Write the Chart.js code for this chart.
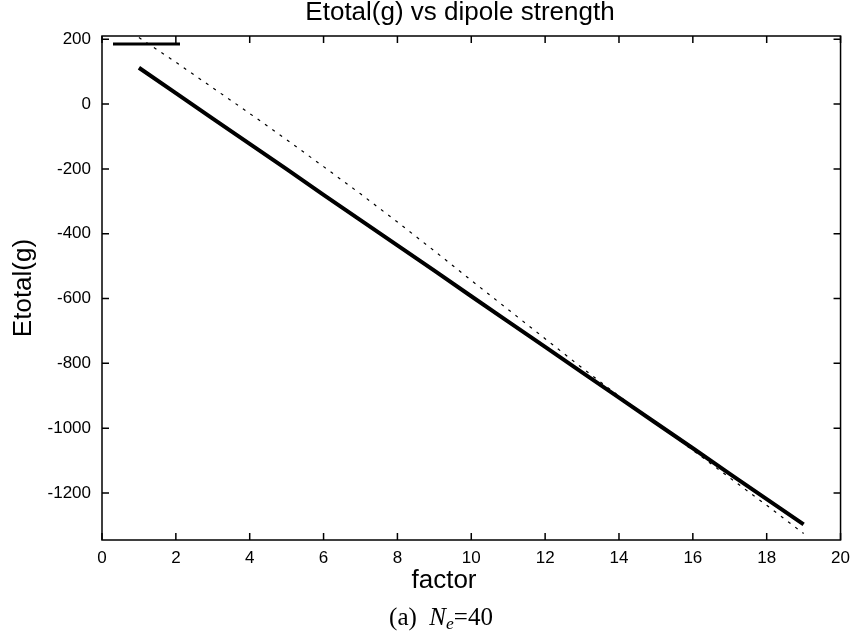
<!DOCTYPE html>
<html>
<head>
<meta charset="utf-8">
<script src="https://cdn.jsdelivr.net/npm/chart.js@4.4.0/dist/chart.umd.min.js"></script>
<style>
  html, body { margin: 0; padding: 0; background: #fff; }
  #wrap { position: relative; width: 858px; height: 641px; }
  #caption {
    position: absolute; left: 0; width: 882px; top: 603px;
    text-align: center; color: #000;
    font-family: "Liberation Serif", "DejaVu Serif", serif; font-size: 25px;
  }
  #caption sub { font-size: 70%; vertical-align: -0.25em; }
</style>
</head>
<body>
<div id="wrap">
  <canvas id="grafica" width="858" height="641"></canvas>
  <div id="caption">(a)&nbsp; <i>N<sub>e</sub></i>=40</div>
</div>
<script>
// Valores
const factores = [1, 2, 3, 4, 5, 6, 7, 8, 9, 10, 11, 12, 13, 14, 15, 16, 17, 18, 19];
const etotalSolida = [112, 34, -45, -123, -201, -280, -358, -436, -514, -593, -671, -749, -828, -906, -984, -1062, -1141, -1219, -1297];
const etotalPunteada = [205, 129, 50, -29, -110, -193, -277, -364, -453, -544, -634, -724, -814, -901, -985, -1068, -1153, -1238, -1325];
const ticksX = [0, 2, 4, 6, 8, 10, 12, 14, 16, 18, 20];
const ticksY = [200, 0, -200, -400, -600, -800, -1000, -1200];

const titulo = 'Etotal(g) vs dipole strength';
const tituloX = 'factor';
const tituloY = 'Etotal(g)';

const fuente = '"Liberation Sans", Arial, sans-serif';

// Marco con marcas hacia adentro, muestra de la clave y textos
const marco = {
    id: 'marco',
    afterDraw(chart) {
        const { ctx, chartArea: a, scales: { x, y } } = chart;
        const largo = 7;
        ctx.save();
        ctx.strokeStyle = '#000';
        ctx.lineWidth = 1.5;
        ctx.strokeRect(a.left, a.top, a.right - a.left, a.bottom - a.top);
        ctx.beginPath();
        x.ticks.forEach(t => {
            const px = x.getPixelForValue(t.value);
            ctx.moveTo(px, a.bottom); ctx.lineTo(px, a.bottom - largo);
            ctx.moveTo(px, a.top); ctx.lineTo(px, a.top + largo);
        });
        y.ticks.forEach(t => {
            const py = y.getPixelForValue(t.value);
            ctx.moveTo(a.left, py); ctx.lineTo(a.left + largo, py);
            ctx.moveTo(a.right, py); ctx.lineTo(a.right - largo, py);
        });
        ctx.stroke();

        // muestra de la línea en la clave
        ctx.lineWidth = 3;
        ctx.beginPath();
        ctx.moveTo(a.left + 11, a.top + 8);
        ctx.lineTo(a.left + 78, a.top + 8);
        ctx.stroke();

        ctx.fillStyle = '#000';
        ctx.font = '26px ' + fuente;
        ctx.textAlign = 'center';
        ctx.textBaseline = 'middle';
        ctx.fillText(titulo, 460, 13);
        ctx.fillText(tituloX, 444, 581);
        ctx.restore();
    }
};

const ctx = document.getElementById('grafica').getContext('2d');
new Chart(ctx, {
    type: 'line',
    data: {
        datasets: [{
            label: 'punteada',
            data: factores.map((f, i) => ({ x: f, y: etotalPunteada[i] })),
            borderColor: '#000',
            borderWidth: 1.2,
            borderDash: [3, 6],
            pointRadius: 0,
            fill: false
        }, {
            label: 'solida',
            data: factores.map((f, i) => ({ x: f, y: etotalSolida[i] })),
            borderColor: '#000',
            borderWidth: 4,
            pointRadius: 0,
            fill: false
        }]
    },
    options: {
        responsive: false,
        animation: false,
        devicePixelRatio: 1,
        layout: { padding: { top: 36, right: 16, bottom: 0, left: 0 } },
        plugins: {
            legend: { display: false },
            tooltip: { enabled: false }
        },
        scales: {
            x: {
                type: 'linear',
                min: 0,
                max: 20,
                grid: { display: false, drawTicks: false },
                border: { display: false },
                afterBuildTicks: (scale) => { scale.ticks = ticksX.map(v => ({ value: v })); },
                afterFit: (scale) => { scale.height = 101; },
                ticks: { color: '#000', padding: 8, maxRotation: 0, callback: (v) => String(v), font: { family: fuente, size: 17 } }
            },
            y: {
                type: 'linear',
                min: -1345,
                max: 210,
                grid: { display: false, drawTicks: false },
                border: { display: false },
                afterBuildTicks: (scale) => { scale.ticks = ticksY.map(v => ({ value: v })); },
                afterFit: (scale) => { scale.width = 102; },
                ticks: { color: '#000', padding: 11, callback: (v) => String(v), font: { family: fuente, size: 17 } },
                title: {
                    display: true,
                    text: tituloY,
                    color: '#000',
                    padding: { top: 8, bottom: 0 },
                    font: { family: fuente, size: 26 }
                }
            }
        }
    },
    plugins: [marco]
});
</script>
</body>
</html>
